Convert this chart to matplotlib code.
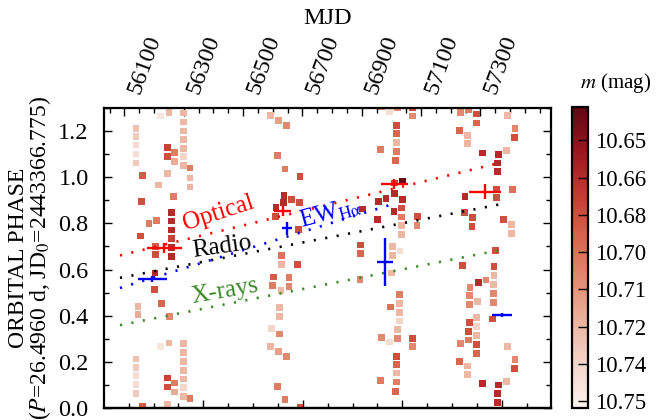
import numpy as np
import matplotlib
matplotlib.use("Agg")
import matplotlib.pyplot as plt
from matplotlib.ticker import MultipleLocator, NullFormatter
from matplotlib.colors import LinearSegmentedColormap

plt.rcParams['font.family'] = 'serif'
plt.rcParams['font.serif'] = ['Liberation Serif', 'DejaVu Serif']
plt.rcParams['mathtext.fontset'] = 'stix'

# ---------------- data (MJD, orbital phase, magnitude) ----------------
mjd = [
    # season 1
    56139, 56139, 56139, 56139, 56139, 56146, 56146, 56161, 56158, 56155,
    56183, 56209, 56206, 56206, 56203, 56200, 56226, 56251, 56244, 56244,
    56244, 56214, 56222, 56250, 56270, 56270, 56265, 56259, 56259, 56259,
    56259, 56259, 56259, 56298, 56298, 56298, 56298, 56298, 56298, 56298,
    56321, 56321, 56321,
    # season 2
    56593, 56596, 56619, 56647, 56615, 56641, 56692, 56638, 56664, 56636,
    56690, 56611, 56608, 56686, 56630, 56630, 56683, 56602, 56655, 56655,
    56600, 56628, 56624, 56624, 56622,
    # season 3
    56993, 57072, 57072, 57018, 57018, 56962, 56967, 57016, 57016, 57013,
    57020, 57020, 57037, 57010, 57010, 56982, 56956, 57037, 57035, 57035,
    57035, 57035, 57009, 56902, 56953, 57088, 57086, 56897, 56897, 57003,
    57003, 57029, 57001, 56894, 57026, 57026, 57026, 57026, 56998,
    # season 4
    57232, 57286, 57286, 57229, 57259, 57256, 57256, 57391, 57417, 57415,
    57387, 57307, 57361, 57359, 57359, 57248, 57355, 57355, 57408, 57246,
    57273, 57272, 57378, 57404, 57404, 57350, 57241, 57346, 57346, 57319,
    57293, 57265, 57344, 57263, 57263, 57290, 57344, 57344, 57342, 57288,
    57262, 57286, 57261, 57286,
]
phase = [
    0.212, 0.176, 0.140, 0.101, 0.062, 0.441, 0.405, 0.007, 0.896, 0.745,
    0.801, 0.814, 0.701, 0.665, 0.585, 0.512, 0.454, 0.395, 0.130, 0.091,
    0.017, 0.966, 0.265, 0.282, 0.108, 0.069, 0.918, 0.846, 0.810, 0.771,
    0.733, 0.697, 0.658, 0.278, 0.239, 0.200, 0.164, 0.126, 0.090, 0.051,
    0.997, 0.958, 0.040,
    0.268, 0.343, 0.246, 0.224, 0.094, 0.036, 0.003, 0.922, 0.904, 0.889,
    0.889, 0.870, 0.831, 0.774, 0.661, 0.622, 0.622, 0.568, 0.564, 0.525,
    0.532, 0.510, 0.434, 0.395, 0.321,
    0.286, 0.265, 0.301, 0.224, 0.188, 0.119, 0.307, 0.152, 0.113, 0.072,
    0.301, 0.340, 0.983, 0.975, 0.928, 0.908, 0.896, 0.905, 0.867, 0.828,
    0.791, 0.753, 0.853, 0.862, 0.817, 0.831, 0.792, 0.706, 0.670, 0.701,
    0.662, 0.680, 0.585, 0.557, 0.492, 0.453, 0.415, 0.377, 0.438,
    0.279, 0.274, 0.235, 0.202, 0.295, 0.182, 0.146, 0.267, 0.211, 0.172,
    0.115, 0.105, 0.100, 0.062, 0.024, 0.918, 0.947, 0.911, 0.947, 0.846,
    0.824, 0.787, 0.817, 0.795, 0.756, 0.684, 0.618, 0.612, 0.574, 0.555,
    0.545, 0.523, 0.535, 0.487, 0.448, 0.463, 0.496, 0.458, 0.386, 0.393,
    0.372, 0.354, 0.333, 0.315,
]
mag = [
    10.730, 10.735, 10.745, 10.745, 10.735, 10.725, 10.720, 10.685, 10.680, 10.680,
    10.700, 10.700, 10.685, 10.680, 10.665, 10.680, 10.690, 10.705, 10.675, 10.680,
    10.725, 10.725, 10.750, 10.725, 10.700, 10.720, 10.700, 10.665, 10.665, 10.665,
    10.675, 10.665, 10.665, 10.725, 10.725, 10.725, 10.725, 10.725, 10.740, 10.725,
    10.725, 10.725, 10.700,
    10.725, 10.740, 10.715, 10.705, 10.700, 10.700, 10.680, 10.665, 10.680, 10.665,
    10.680, 10.665, 10.680, 10.680, 10.695, 10.725, 10.680, 10.685, 10.700, 10.705,
    10.700, 10.725, 10.725, 10.725, 10.705,
    10.745, 10.705, 10.680, 10.680, 10.690, 10.700, 10.705, 10.725, 10.700, 10.690,
    10.705, 10.725, 10.640, 10.675, 10.665, 10.665, 10.665, 10.665, 10.680, 10.700,
    10.725, 10.725, 10.665, 10.665, 10.665, 10.680, 10.705, 10.680, 10.690, 10.725,
    10.725, 10.745, 10.725, 10.705, 10.700, 10.725, 10.725, 10.740, 10.695,
    10.705, 10.680, 10.690, 10.690, 10.700, 10.725, 10.725, 10.725, 10.705, 10.680,
    10.725, 10.665, 10.665, 10.665, 10.665, 10.665, 10.680, 10.680, 10.695, 10.680,
    10.680, 10.680, 10.680, 10.725, 10.725, 10.680, 10.680, 10.680, 10.725, 10.705,
    10.665, 10.705, 10.725, 10.705, 10.705, 10.725, 10.705, 10.705, 10.680, 10.725,
    10.680, 10.740, 10.680, 10.725,
]

# phase drift fits (MJD endpoints, phase endpoints)
fit_mjd = [56085, 57365]
opt_fit = [0.661, 1.062]
radio_fit = [0.564, 0.882]
xray_fit = [0.359, 0.684]
ew_fit_mjd = [56085, 57019]
ew_fit = [0.520, 0.889]

# optical phase measurements with errors
opt_mjd = [56234, 56633, 57010, 57315]
opt_ph = [0.694, 0.853, 0.971, 0.937]
opt_xerr = [59, 28, 46, 55]
opt_yerr = [0.022, 0.022, 0.02, 0.033]
# EW Halpha phase measurements
ew_mjd = [56194, 56647, 56979, 57372]
ew_ph = [0.557, 0.778, 0.633, 0.402]
ew_xerr = [49, 17, 26, 34]
ew_yerr = [0.013, 0.029, 0.103, 0.008]

cbar_ticks = [10.650, 10.665, 10.680, 10.695, 10.710, 10.725, 10.740, 10.755]
cbar_labels = ['10.65', '10.66', '10.68', '10.70', '10.71', '10.72', '10.74', '10.75']
mjd_ticks = [56100, 56300, 56500, 56700, 56900, 57100, 57300]

# ---------------- figure ----------------
fig = plt.figure(figsize=(6.56, 4.2), dpi=100)
ax = fig.add_axes([0.1585, 0.0286, 0.6814, 0.7143])
cax = fig.add_axes([0.872, 0.0286, 0.0244, 0.7167])

cmap = LinearSegmentedColormap.from_list(
    'mag', ['#5a0812', '#9a161e', '#c23a30', '#d8644c', '#e28a70',
            '#ebb39e', '#f3d6ca', '#fbf2ee'])

mjd_a = np.array(mjd, float)
ph_a = np.array(phase, float)
mag_a = np.array(mag, float)
dup = ph_a < 0.31
x_all = np.concatenate([mjd_a, mjd_a[dup]])
y_all = np.concatenate([ph_a, ph_a[dup] + 1.0])
c_all = np.concatenate([mag_a, mag_a[dup]])
order = np.argsort(-c_all)

vmin, vmax = 10.6366, 10.7578
sc = ax.scatter(x_all[order], y_all[order], c=c_all[order], cmap=cmap,
                vmin=vmin, vmax=vmax, marker='s', s=24, linewidths=0, zorder=2)

dot = (0, (0.8, 3.6))
ax.plot(fit_mjd, opt_fit, color='red', ls=dot, lw=1.9, zorder=3)
ax.plot(fit_mjd, radio_fit, color='black', ls=dot, lw=1.9, zorder=3)
ax.plot(fit_mjd, xray_fit, color='#3a8a24', ls=dot, lw=1.9, zorder=3)
ax.plot(ew_fit_mjd, ew_fit, color='blue', ls=dot, lw=1.9, zorder=3)

ax.errorbar(opt_mjd, opt_ph, xerr=opt_xerr, yerr=opt_yerr, fmt='none',
            ecolor='red', elinewidth=1.7, capsize=0, zorder=4)
ax.errorbar(ew_mjd, ew_ph, xerr=ew_xerr, yerr=ew_yerr, fmt='none',
            ecolor='blue', elinewidth=1.7, capsize=0, zorder=4)

ax.text(56416, 0.842, 'Optical', color='red', fontsize=18, rotation=18,
        ha='center', va='center', zorder=5)
ax.text(56428, 0.700, 'Radio', color='black', fontsize=18, rotation=8,
        ha='center', va='center', zorder=5)
ax.text(56439, 0.505, 'X-rays', color='#3a8a24', fontsize=18, rotation=10,
        ha='center', va='center', zorder=5)
ax.text(56795, 0.845, r'EW$_{\rm H\alpha}$', color='blue', fontsize=18, rotation=15,
        ha='center', va='center', zorder=5)

ax.set_xlim(56031, 57538)
ax.set_ylim(0, 1.3)

# top axis: MJD
ax.xaxis.set_ticks_position('top')
ax.xaxis.set_label_position('top')
ax.set_xticks(mjd_ticks)
ax.xaxis.set_minor_locator(MultipleLocator(50))
ax.set_xticklabels([str(t) for t in mjd_ticks], rotation=70, ha='left', fontsize=17.5)
ax.set_xlabel('MJD', fontsize=17.5, labelpad=6)
ax.tick_params(axis='x', which='both', direction='in', top=True, bottom=False,
               labeltop=True, labelbottom=False, pad=8)
ax.tick_params(axis='x', which='major', length=6, width=1)
ax.tick_params(axis='x', which='minor', length=3.5, width=1)

# bottom axis (superorbital phase, unlabeled)
P_sup, T_sup = 1677.0, 56366.0
sec = ax.secondary_xaxis('bottom', functions=(lambda m: (m - T_sup) / P_sup,
                                              lambda p: p * P_sup + T_sup))
sec.xaxis.set_major_locator(MultipleLocator(0.2))
sec.xaxis.set_minor_locator(MultipleLocator(0.05))
sec.xaxis.set_major_formatter(NullFormatter())
sec.tick_params(which='both', direction='in', labelbottom=False)
sec.tick_params(which='major', length=6, width=1)
sec.tick_params(which='minor', length=3.5, width=1)
sec.spines['bottom'].set_linewidth(1.6)

# y axis
ax.yaxis.set_major_locator(MultipleLocator(0.2))
ax.yaxis.set_minor_locator(MultipleLocator(0.1))
ax.yaxis.set_major_formatter(plt.FuncFormatter(lambda v, p: f'{v:.1f}'))
ax.tick_params(axis='y', which='both', direction='in', left=True, right=True,
               labelsize=17.5, pad=11)
ax.tick_params(axis='y', which='major', length=6, width=1)
ax.tick_params(axis='y', which='minor', length=3.5, width=1)
ax.set_ylabel('ORBITAL PHASE\n($P$=26.4960 d, JD$_0$=2443366.775)',
              fontsize=17, linespacing=0.9, labelpad=4)
for sp in ax.spines.values():
    sp.set_linewidth(1.6)

# colorbar
cb = fig.colorbar(sc, cax=cax)
cax.invert_yaxis()
cb.set_ticks(cbar_ticks)
cb.set_ticklabels(cbar_labels)
cax.tick_params(direction='in', length=7, width=1, labelsize=16.5, pad=5)
cb.outline.set_linewidth(1.6)
cax.text(0.5, 1.04, '$m$ (mag)', transform=cax.transAxes, fontsize=15,
         ha='left', va='bottom')

fig.savefig('out.png', dpi=100)
